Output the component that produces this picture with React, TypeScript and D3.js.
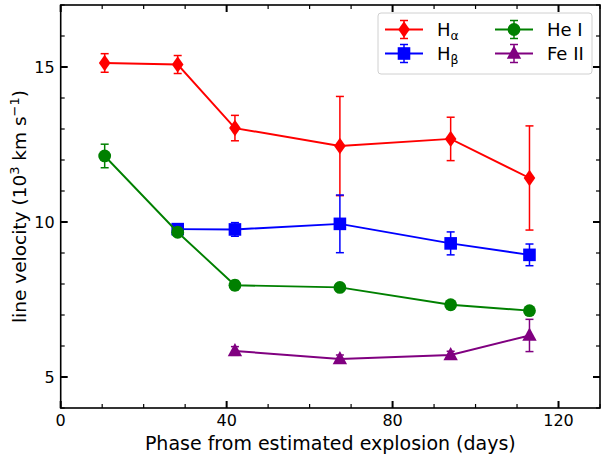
import React from "react";
import * as d3 from "d3";

// phase (days) for each epoch
const days = [10.6, 28.2, 42, 67.3, 94, 113];

// line velocities in 10^3 km/s, null = not measured
const halpha = [15.13, 15.08, 13.03, 12.45, 12.68, 11.42];
const halphaErr = [0.3, 0.29, 0.41, 1.6, 0.7, 1.68];
const hbeta = [null, 9.77, 9.76, 9.94, 9.31, 8.94];
const hbetaErr = [null, 0.1, 0.22, 0.93, 0.37, 0.35];
const he1 = [12.13, 9.67, 7.96, 7.89, 7.33, 7.14];
const he1Err = [0.38, 0.1, 0.15, 0.08, 0.08, 0.08];
const fe2 = [null, null, 5.84, 5.58, 5.71, 6.34];
const fe2Err = [null, null, 0.14, 0.13, 0.12, 0.52];

const xTicks = [0, 40, 80, 120];
const yTicks = [5, 10, 15];

const W = 603;
const H = 456;
const m = { left: 60.7, right: 600, top: 5, bottom: 408 };
const font = "DejaVu Sans, sans-serif";

const x = d3.scaleLinear().domain([0, 130]).range([m.left, m.right]);
const y = d3.scaleLinear().domain([4, 17]).range([m.bottom, m.top]);

type Series = {
  key: string;
  label: React.ReactNode;
  color: string;
  marker: string;
  vals: (number | null)[];
  errs: (number | null)[];
};

const series: Series[] = [
  { key: "ha", label: <>H<tspan fontSize={12.5} dy={4}>α</tspan></>, color: "#ff0000", marker: "thin_diamond", vals: halpha, errs: halphaErr },
  { key: "hb", label: <>H<tspan fontSize={12.5} dy={4}>β</tspan></>, color: "#0000ff", marker: "square", vals: hbeta, errs: hbetaErr },
  { key: "he", label: "He I", color: "#008000", marker: "circle", vals: he1, errs: he1Err },
  { key: "fe", label: "Fe II", color: "#800080", marker: "triangle", vals: fe2, errs: fe2Err },
];

function Marker({ type, cx, cy, color }: { type: string; cx: number; cy: number; color: string }) {
  if (type === "circle") return <circle cx={cx} cy={cy} r={6.4} fill={color} />;
  if (type === "square")
    return <rect x={cx - 6.3} y={cy - 6.3} width={12.6} height={12.6} fill={color} />;
  if (type === "thin_diamond")
    return <path d={`M${cx},${cy - 8.2}L${cx + 5.8},${cy}L${cx},${cy + 8.2}L${cx - 5.8},${cy}Z`} fill={color} />;
  return <path d={`M${cx},${cy - 8}L${cx + 7.2},${cy + 5.2}L${cx - 7.2},${cy + 5.2}Z`} fill={color} />;
}

function ErrBar({ cx, y0, y1, color }: { cx: number; y0: number; y1: number; color: string }) {
  return (
    <g stroke={color} strokeWidth={1.5}>
      <line x1={cx} x2={cx} y1={y0} y2={y1} />
      <line x1={cx - 4} x2={cx + 4} y1={y0} y2={y0} />
      <line x1={cx - 4} x2={cx + 4} y1={y1} y2={y1} />
    </g>
  );
}

export default function App() {
  const line = d3
    .line<[number, number]>()
    .x((d) => x(d[0]))
    .y((d) => y(d[1]));

  const minorX = d3.range(0, 131, 10).filter((t) => !xTicks.includes(t));
  const minorY = d3.range(4, 18, 1).filter((t) => !yTicks.includes(t));

  return (
    <svg width={W} height={H} style={{ position: "absolute", left: 0, top: 0 }} fontFamily={font}>
      <rect width={W} height={H} fill="white" />

      {series.map((s) => {
        const pts = days
          .map((d, i) => [d, s.vals[i], s.errs[i]] as [number, number | null, number | null])
          .filter((p) => p[1] != null) as [number, number, number][];
        return (
          <g key={s.key}>
            <path d={line(pts.map((p) => [p[0], p[1]]))!} fill="none" stroke={s.color} strokeWidth={1.9} />
            {pts.map((p, i) => (
              <ErrBar key={i} cx={x(p[0])} y0={y(p[1] + p[2])} y1={y(p[1] - p[2])} color={s.color} />
            ))}
            {pts.map((p, i) => (
              <Marker key={i} type={s.marker} cx={x(p[0])} cy={y(p[1])} color={s.color} />
            ))}
          </g>
        );
      })}

      {/* ticks, inward on all sides */}
      <g stroke="black">
        {xTicks.map((t) => (
          <g key={t} strokeWidth={2}>
            <line x1={x(t)} x2={x(t)} y1={m.bottom} y2={m.bottom - 7} />
            <line x1={x(t)} x2={x(t)} y1={m.top} y2={m.top + 7} />
          </g>
        ))}
        {minorX.map((t) => (
          <g key={t} strokeWidth={1.2}>
            <line x1={x(t)} x2={x(t)} y1={m.bottom} y2={m.bottom - 4} />
            <line x1={x(t)} x2={x(t)} y1={m.top} y2={m.top + 4} />
          </g>
        ))}
        {yTicks.map((t) => (
          <g key={t} strokeWidth={2}>
            <line x1={m.left} x2={m.left + 7} y1={y(t)} y2={y(t)} />
            <line x1={m.right} x2={m.right - 7} y1={y(t)} y2={y(t)} />
          </g>
        ))}
        {minorY.map((t) => (
          <g key={t} strokeWidth={1.2}>
            <line x1={m.left} x2={m.left + 4} y1={y(t)} y2={y(t)} />
            <line x1={m.right} x2={m.right - 4} y1={y(t)} y2={y(t)} />
          </g>
        ))}
      </g>

      <rect
        x={m.left}
        y={m.top}
        width={m.right - m.left}
        height={m.bottom - m.top}
        fill="none"
        stroke="black"
        strokeWidth={1.6}
      />

      {xTicks.map((t) => (
        <text key={t} x={x(t)} y={m.bottom + 18} textAnchor="middle" fontSize={16}>
          {t}
        </text>
      ))}
      {yTicks.map((t) => (
        <text key={t} x={m.left - 6} y={y(t) + 6} textAnchor="end" fontSize={16}>
          {t}
        </text>
      ))}

      <text x={(m.left + m.right) / 2} y={450} textAnchor="middle" fontSize={19}>
        Phase from estimated explosion (days)
      </text>
      <text transform={`translate(26,${(m.top + m.bottom) / 2}) rotate(-90)`} textAnchor="middle" fontSize={18.5}>
        line velocity (10<tspan fontSize={13} dy={-7}>3</tspan>
        <tspan dy={7}> km s</tspan>
        <tspan fontSize={13} dy={-7}>−1</tspan>
        <tspan dy={7}>)</tspan>
      </text>

      {/* legend */}
      <g>
        <rect x={378} y={13} width={214} height={61} rx={3} fill="white" fillOpacity={0.8} stroke="#d0d0d0" />
        {series.map((s, i) => {
          const col = i >= 2 ? 1 : 0;
          const row = i % 2;
          const hx = 385 + col * 110;
          const hy = 29.5 + row * 24;
          return (
            <g key={s.key}>
              <line x1={hx} x2={hx + 38} y1={hy} y2={hy} stroke={s.color} strokeWidth={1.9} />
              <ErrBar cx={hx + 19} y0={hy - 9} y1={hy + 9} color={s.color} />
              <Marker type={s.marker} cx={hx + 19} cy={hy} color={s.color} />
              <text x={hx + 52} y={hy + 6.5} fontSize={18}>
                {s.label}
              </text>
            </g>
          );
        })}
      </g>
    </svg>
  );
}
